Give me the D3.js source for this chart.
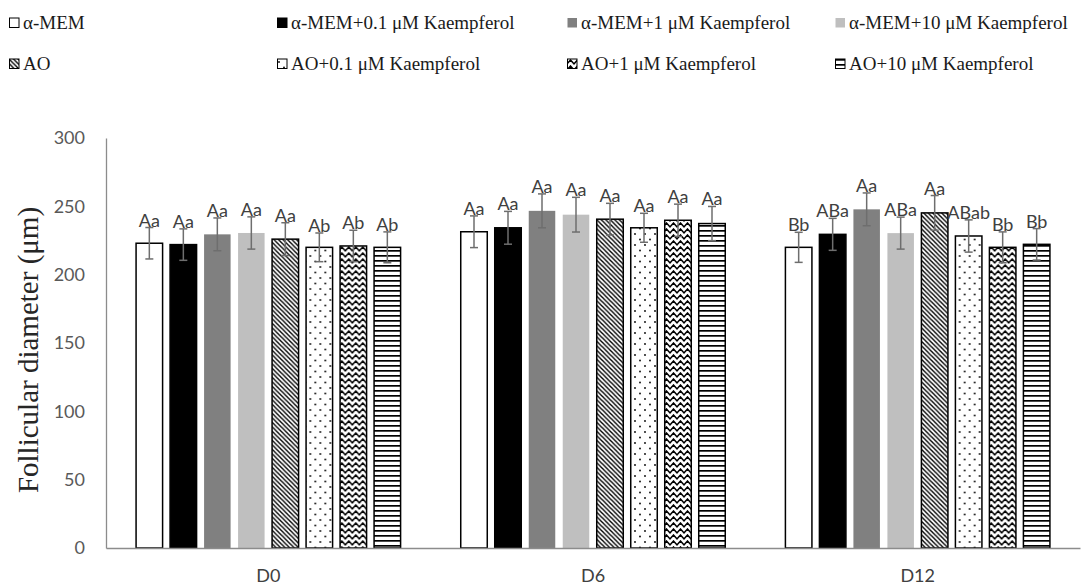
<!DOCTYPE html>
<html><head><meta charset="utf-8">
<script src="https://cdn.jsdelivr.net/npm/d3@7"></script>
<style>body{margin:0;background:#fff}svg{display:block}</style>
</head><body>
<svg id="chart" width="1091" height="585"></svg>
<script>
const categories = ["D0", "D6", "D12"];
const seriesNames = ["α-MEM", "α-MEM+0.1 μM Kaempferol", "α-MEM+1 μM Kaempferol", "α-MEM+10 μM Kaempferol",
  "AO", "AO+0.1 μM Kaempferol", "AO+1 μM Kaempferol", "AO+10 μM Kaempferol"];
const d0Values = [223, 222, 229.5, 230.5, 226, 220, 221, 220];
const d6Values = [231.4, 234.3, 246.7, 243.9, 240.6, 234.3, 239.8, 237.4];
const d12Values = [220, 229.5, 247.8, 230.4, 245.2, 228.3, 220, 222.2];
const d0Errors = [11.5, 11.5, 12, 11.8, 12, 10.5, 11.5, 11.3];
const d6Errors = [11.6, 12, 12.4, 12.7, 11.6, 10.6, 11.8, 12.5];
const d12Errors = [11, 11.7, 12, 11.7, 12.7, 11.8, 11.3, 11.5];
const d0Letters = ["Aa", "Aa", "Aa", "Aa", "Aa", "Ab", "Ab", "Ab"];
const d6Letters = ["Aa", "Aa", "Aa", "Aa", "Aa", "Aa", "Aa", "Aa"];
const d12Letters = ["Bb", "ABa", "Aa", "ABa", "Aa", "ABab", "Bb", "Bb"];
const yTicks = [0, 50, 100, 150, 200, 250, 300];
const yTitle = "Follicular diameter (μm)";

const valuesByCat = [d0Values, d6Values, d12Values];
const errorsByCat = [d0Errors, d6Errors, d12Errors];
const lettersByCat = [d0Letters, d6Letters, d12Letters];

const serif = "'Liberation Serif', 'DejaVu Serif', serif";
const sans = "Lato, 'Open Sans', sans-serif";

const svg = d3.select("#chart");
const defs = svg.append("defs");

function pat(id, w, h) {
  const p = defs.append("pattern").attr("id", id).attr("patternUnits", "userSpaceOnUse")
    .attr("width", w).attr("height", h);
  p.append("rect").attr("width", w).attr("height", h).attr("fill", "#fff");
  return p;
}
pat("p-diag", 4.5, 4.5).append("path")
  .attr("d", "M-1,-1 L5.5,5.5 M-1,3.5 L1,5.5 M3.5,-1 L5.5,1")
  .attr("stroke", "#000").attr("stroke-width", 1.4);
const pd = pat("p-dots", 10, 11);
pd.append("circle").attr("cx", 2).attr("cy", 3).attr("r", 0.9).attr("fill", "#000");
pd.append("circle").attr("cx", 7).attr("cy", 8.5).attr("r", 0.9).attr("fill", "#000");
pat("p-zig", 7, 6).append("path")
  .attr("d", "M-3.5,1 L0,4.8 L3.5,1 L7,4.8 L10.5,1")
  .attr("stroke", "#000").attr("stroke-width", 1.5).attr("fill", "none");
pat("p-hl", 10, 5).append("rect").attr("y", 0).attr("width", 10).attr("height", 1.7).attr("fill", "#000");

const fills = ["#ffffff", "#000000", "#808080", "#bfbfbf", "url(#p-diag)", "url(#p-dots)", "url(#p-zig)", "url(#p-hl)"];
const strokes = ["#000", "#000", "none", "none", "#000", "#000", "#000", "#000"];

const x0 = d3.scaleBand().domain(categories).range([106, 1080]).padding(0);
const x1 = d3.scaleBand().domain(d3.range(seriesNames.length)).range([-136, 136])
  .paddingInner(0.176).paddingOuter(0.088);
const y = d3.scaleLinear().domain([0, 300]).range([548, 138]);

const yAxis = svg.append("g").attr("transform", "translate(106,0)")
  .call(d3.axisLeft(y).tickValues(yTicks).tickSize(0).tickPadding(21));
yAxis.select(".domain").attr("stroke", "#8c8c8c").attr("stroke-width", 1.3);
yAxis.selectAll("text").attr("font-family", sans).attr("font-size", 18).attr("fill", "#595959");

categories.forEach((cat, ci) => {
  const cx = x0(cat) + x0.bandwidth() / 2;
  const g = svg.append("g").attr("transform", `translate(${cx},0)`);
  valuesByCat[ci].forEach((v, si) => {
    const bx = x1(si), bw = x1.bandwidth();
    g.append("rect").attr("x", bx + 0.75).attr("y", y(v)).attr("width", bw - 1.5).attr("height", y(0) - y(v))
      .attr("fill", fills[si]).attr("stroke", strokes[si]).attr("stroke-width", 1.5);
  });
  valuesByCat[ci].forEach((v, si) => {
    const e = errorsByCat[ci][si];
    const mx = x1(si) + x1.bandwidth() / 2;
    const eg = g.append("g").attr("stroke", "#6e6e6e").attr("stroke-width", 1.5);
    eg.append("line").attr("x1", mx).attr("x2", mx).attr("y1", y(v + e)).attr("y2", y(v - e));
    eg.append("line").attr("x1", mx - 4).attr("x2", mx + 4).attr("y1", y(v + e)).attr("y2", y(v + e));
    eg.append("line").attr("x1", mx - 4).attr("x2", mx + 4).attr("y1", y(v - e)).attr("y2", y(v - e));
    g.append("text").attr("x", mx).attr("y", y(v + e) - 1).attr("text-anchor", "middle")
      .attr("font-family", sans).attr("font-size", 18).attr("fill", "#404040")
      .text(lettersByCat[ci][si]);
  });
});

const xAxis = svg.append("g").attr("transform", "translate(0,548)")
  .call(d3.axisBottom(x0).tickSize(0).tickPadding(0));
xAxis.select(".domain").attr("stroke", "#8c8c8c").attr("stroke-width", 1.3);
xAxis.selectAll("text").attr("font-family", sans).attr("font-size", 18).attr("fill", "#404040")
  .attr("dy", null).attr("y", 34);

svg.append("text").attr("transform", "translate(38,350) rotate(-90)").attr("text-anchor", "middle")
  .attr("font-family", serif).attr("font-size", 29).attr("fill", "#262626").text(yTitle);

const colX = [9, 277, 567, 835];
const rowY = [18, 59];
seriesNames.forEach((name, i) => {
  const lx = colX[i % 4], ly = rowY[Math.floor(i / 4)];
  const lg = svg.append("g").attr("transform", `translate(${lx},${ly})`);
  lg.append("rect").attr("x", 0.5).attr("y", 0).attr("width", 9.5).attr("height", 9.5)
    .attr("fill", fills[i]).attr("stroke", strokes[i]).attr("stroke-width", 1);
  lg.append("text").attr("x", 14).attr("y", 11).attr("font-family", serif)
    .attr("font-size", 19).attr("fill", "#1a1a1a").text(name);
});
</script>
</body></html>
